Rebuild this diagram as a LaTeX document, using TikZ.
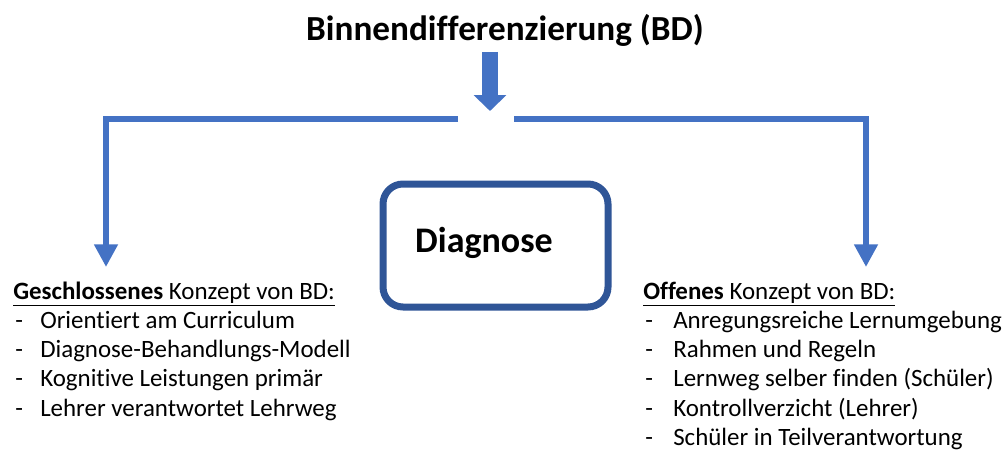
\documentclass[tikz,border=0pt]{standalone}
\usepackage{fontspec}
\setmainfont{Carlito}[Ligatures=NoCommon]
\usepackage{xcolor}
\usepackage{tikz}
\usetikzlibrary{arrows.meta}
\definecolor{arrowblue}{HTML}{4472C4}
\definecolor{boxblue}{HTML}{2F5597}

\begin{document}
\begin{tikzpicture}[x=0.75pt, y=-0.75pt,
      mainarrow/.style={draw=arrowblue, line width=12pt, -{Triangle[width=24pt,length=12pt]}},
      branch/.style={draw=arrowblue, line width=5pt, line join=miter},
      sidearrow/.style={branch, -{Triangle[width=17pt,length=17pt]}},
      listtext/.style={anchor=base west, inner sep=0pt, font=\fontsize{18.7}{22}\selectfont}
      ]
      \useasboundingbox (0,0) rectangle (1005,453);

      \node[font=\bfseries\fontsize{26.4}{30}\selectfont] (title) at (505,30) {Binnendifferenzierung (BD)};
      \coordinate (stem) at (490,52);
      \coordinate (split) at (490,111);
      \draw[mainarrow] (stem) -- (split);

      % the two branches
      \coordinate (lend) at (458,119);
      \coordinate (lcorner) at (106,119);
      \coordinate (ltip) at (106,267);
      \coordinate (rend) at (514,119);
      \coordinate (rcorner) at (866,119);
      \coordinate (rtip) at (866,267);
      \draw[sidearrow] (lend) -- (lcorner) -- (ltip);
      \draw[sidearrow] (rend) -- (rcorner) -- (rtip);

      \node[draw=boxblue, line width=5.25pt, rounded corners=15pt,
            minimum width=168.75pt, minimum height=92.25pt] (diagbox) at (495.5,245.5) {};
      \node[font=\bfseries\fontsize{27}{31}\selectfont] (diag) at (484,243) {Diagnose};

      % closed concept
      \node[listtext] (ghead) at (13,299) {\underline{\textbf{Geschlossenes} Konzept von BD:}};
      \foreach \entry [count=\i] in {Orientiert am Curriculum, Diagnose-Behandlungs-Modell,
            Kognitive Leistungen primär, Lehrer verantwortet Lehrweg} {
        \node[listtext] (gdash\i) at (15,{299+29.3*\i}) {-};
        \node[listtext] (gitem\i) at (40,{299+29.3*\i}) {\entry};
      }

      % open concept
      \node[listtext] (ohead) at (643,299) {\underline{\textbf{Offenes} Konzept von BD:}};
      \foreach \entry [count=\i] in {Anregungsreiche Lernumgebung, Rahmen und Regeln,
            Lernweg selber finden (Schüler), Kontrollverzicht (Lehrer), Schüler in Teilverantwortung} {
        \node[listtext] (odash\i) at (645,{299+29.3*\i}) {-};
        \node[listtext] (oitem\i) at (673,{299+29.3*\i}) {\entry};
      }
\end{tikzpicture}
\end{document}
